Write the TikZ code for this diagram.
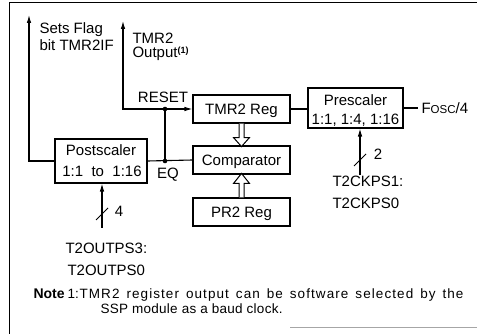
\documentclass[tikz,border=0pt]{standalone}
\usepackage{fontspec}
\setmainfont{Liberation Sans}
\usetikzlibrary{arrows.meta}
\begin{document}
\begin{tikzpicture}[x=1pt,y=-1pt,
  font=\fontsize{15}{17}\selectfont,
  line width=1.1pt,
  box/.style={draw,line width=1.1pt,inner sep=0pt},
  lbl/.style={inner sep=0pt},
  note/.style={inner sep=0pt,font=\fontsize{13.5}{16}\selectfont},
  arr/.style={-{Latex[length=8pt,width=4.6pt]}},
  hollow/.style={draw,line width=1pt,fill=white,line join=miter},
  dot/.style={fill=black}]
\useasboundingbox (0,0) rectangle (477,334);
% frame
\draw[line width=1pt] (9,334) -- (9,3) -- (477,3);
\draw[line width=1pt,black!35] (290,327) -- (477,327);
% boxes
\node[box,minimum width=97pt,minimum height=28pt] (tmr) at (241.5,109) {};
\node[box,minimum width=97pt,minimum height=28pt] (cmp) at (241.5,160) {};
\node[box,minimum width=97pt,minimum height=28pt] (pr2) at (241.5,212) {};
\node[box,minimum width=95pt,minimum height=40pt] (pre) at (355.5,108) {};
\node[box,minimum width=92pt,minimum height=44pt] (post) at (101,161) {};
% box texts
\node[lbl,anchor=base] (ttmr) at (241.5,114.5) {TMR2 Reg};
\node[lbl,anchor=base] (tcmp) at (241.5,165.5) {Comparator};
\node[lbl,anchor=base] (tpr2) at (241.5,217.5) {PR2 Reg};
\node[lbl,anchor=base] (tpre1) at (355.5,105.5) {Prescaler};
\node[lbl,anchor=base] (tpre2) at (355.5,125) {1:1, 1:4, 1:16};
\node[lbl,anchor=base] (tpost1) at (101,155.5) {Postscaler};
\node[lbl,anchor=base] (tpost2) at (102,176.5) {1:1\ \ to\ \ 1:16};
% coordinates
\coordinate (flag) at (29,15);
\coordinate (tout) at (123,21);
\coordinate (rdot) at (165,109);
\coordinate (eqdot) at (165,161);
\coordinate (fosc) at (418,108);
\coordinate (ckin) at (360,175);
\coordinate (psin) at (102,228);
% connectors
\draw[arr] (post.west) -| (flag);
\draw[arr] (rdot) -| (tout);
\draw[arr] (rdot) -- (tmr.west);
\draw (rdot) -- (eqdot);
\draw (post.east) -- (cmp.west);
\fill[dot] (rdot) circle (2.3pt);
\fill[dot] (eqdot) circle (2.3pt);
\draw (tmr.east) -- (tmr.east -| pre.west);
\draw (pre.east) -- (fosc);
\draw[arr] (ckin) -- (ckin |- pre.south);
\draw[arr] (psin) -- (psin |- post.south);
% bus slashes
\draw[line width=0.9pt] (354,166) -- (366,154);
\draw[line width=0.9pt] (96,220) -- (108,208);
% hollow arrows
\draw[hollow,shift={(tmr.south)}] (-2.5,0) -- (-2.5,14) -- (-8,14) -- (0,23) -- (8,14) -- (2.5,14) -- (2.5,0);
\draw[hollow,shift={(pr2.north)}] (-2.5,0) -- (-2.5,-14) -- (-8,-14) -- (0,-24) -- (8,-14) -- (2.5,-14) -- (2.5,0);
% labels
\node[lbl,anchor=base west] (sf1) at (39,33.5) {Sets Flag};
\node[lbl,anchor=base west] (sf2) at (39,50.5) {bit TMR2IF};
\node[lbl,anchor=base west] (to1) at (132,43.5) {TMR2};
\node[lbl,anchor=base west] (to2) at (132,58) {Output{\fontsize{9}{9}\selectfont\bfseries\raisebox{4.5pt}{(1)}}};
\node[lbl,anchor=base] (reset) at (163,103) {RESET};
\node[lbl,anchor=base] (eq) at (168,178.5) {EQ};
\node[lbl,anchor=base west] (fosct) at (421,113.5) {F{\fontsize{11.5}{12}\selectfont OSC}/4};
\node[lbl,anchor=base] (two) at (378,160) {2};
\node[lbl,anchor=base] (four) at (119,216) {4};
\node[lbl,anchor=base west] (ck1) at (332,187) {T2CKPS1:};
\node[lbl,anchor=base west] (ck0) at (332,208) {T2CKPS0};
\node[lbl,anchor=base west] (op3) at (65,254) {T2OUTPS3:};
\node[lbl,anchor=base west] (op0) at (67,275) {T2OUTPS0};
% note
\node[note,anchor=base west,font=\fontsize{14}{16}\selectfont\bfseries] (nt) at (33,298) {Note};
\node[note,anchor=base west] (n1) at (67,298) {1:};
\node[note,anchor=base west] (nl1) at (79,298) {\addfontfeature{LetterSpace=8}\makebox[384pt][s]{TMR2 register output can be software selected by the}};
\node[note,anchor=base west] (nl2) at (100,313) {\addfontfeature{LetterSpace=2}SSP module as a baud clock.};
\end{tikzpicture}
\end{document}
